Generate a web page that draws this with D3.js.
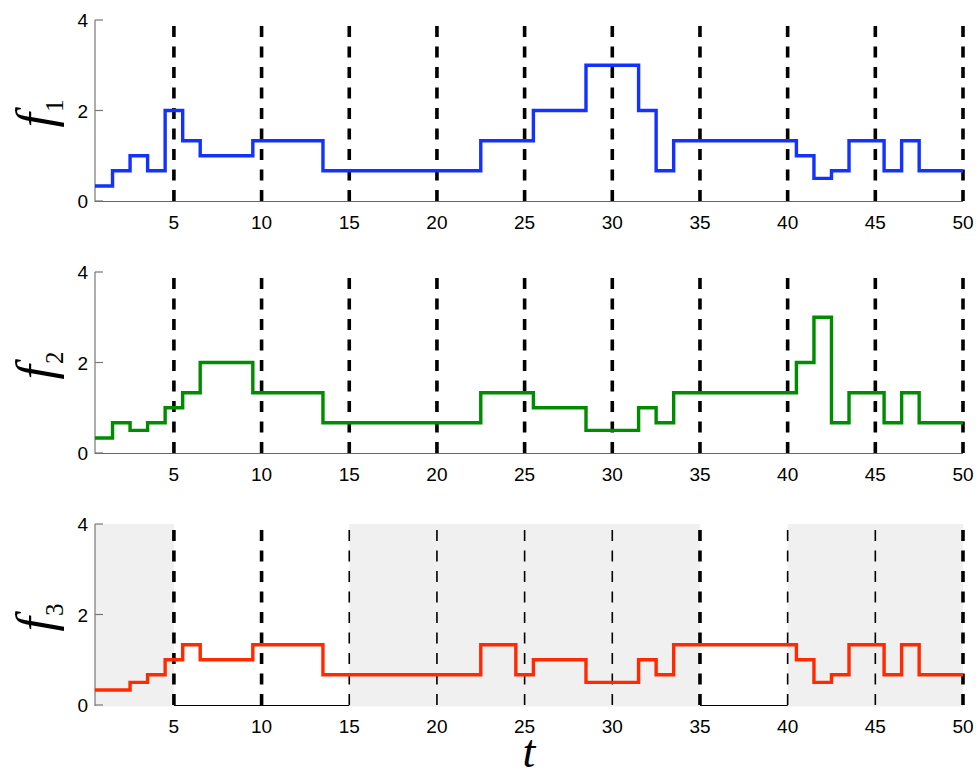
<!DOCTYPE html>
<html>
<head>
<meta charset="utf-8">
<script src="https://cdn.jsdelivr.net/npm/d3@7"></script>
<style>
  html, body { margin: 0; padding: 0; background: #fff; }
  svg { display: block; }
</style>
</head>
<body>
<script>
// Piecewise-constant signals, one value per time step t = 1..50
const f1 = [0.333, 0.667, 1, 0.667, 2, 1.333, 1, 1, 1, 1.333,
            1.333, 1.333, 1.333, 0.667, 0.667, 0.667, 0.667, 0.667, 0.667, 0.667,
            0.667, 0.667, 1.333, 1.333, 1.333, 2, 2, 2, 3, 3,
            3, 2, 0.667, 1.333, 1.333, 1.333, 1.333, 1.333, 1.333, 1.333,
            1, 0.5, 0.667, 1.333, 1.333, 0.667, 1.333, 0.667, 0.667, 0.667];
const f2 = [0.333, 0.667, 0.5, 0.667, 1, 1.333, 2, 2, 2, 1.333,
            1.333, 1.333, 1.333, 0.667, 0.667, 0.667, 0.667, 0.667, 0.667, 0.667,
            0.667, 0.667, 1.333, 1.333, 1.333, 1, 1, 1, 0.5, 0.5,
            0.5, 1, 0.667, 1.333, 1.333, 1.333, 1.333, 1.333, 1.333, 1.333,
            2, 3, 0.667, 1.333, 1.333, 0.667, 1.333, 0.667, 0.667, 0.667];
const f3 = [0.333, 0.333, 0.5, 0.667, 1, 1.333, 1, 1, 1, 1.333,
            1.333, 1.333, 1.333, 0.667, 0.667, 0.667, 0.667, 0.667, 0.667, 0.667,
            0.667, 0.667, 1.333, 1.333, 0.667, 1, 1, 1, 0.5, 0.5,
            0.5, 1, 0.667, 1.333, 1.333, 1.333, 1.333, 1.333, 1.333, 1.333,
            1, 0.5, 0.667, 1.333, 1.333, 0.667, 1.333, 0.667, 0.667, 0.667];

const seriesNames = ["1", "2", "3"];
const seriesColors = ["#1432ff", "#008c00", "#ff2a00"];

const xTicks = [5, 10, 15, 20, 25, 30, 35, 40, 45, 50];
const yTicks = [0, 2, 4];
const markers = [5, 10, 15, 20, 25, 30, 35, 40, 45, 50];
// Third panel: shaded spans and which markers are drawn heavy
const shadedSpans = [[0.5, 5], [15, 35], [40, 50]];
const heavyMarkers = [5, 10, 35, 50];

const W = 979, H = 778;
const left = 95, right = 963;
const panelTops = [20, 272, 524];
const panelH = 181;

const svg = d3.select("body").append("svg")
  .attr("width", W).attr("height", H);

const x = d3.scaleLinear().domain([0.5, 50]).range([left, right]);

const seriesList = [f1, f2, f3];

seriesList.forEach((vals, p) => {
  const top = panelTops[p];
  const y = d3.scaleLinear().domain([0, 4]).range([top + panelH, top]);
  const g = svg.append("g");
  const isLast = p === 2;

  // bottom axis line
  g.append("line")
    .attr("x1", left).attr("x2", right)
    .attr("y1", y(0) + 0.5).attr("y2", y(0) + 0.5)
    .attr("stroke", isLast ? "#000" : "#666").attr("stroke-width", 1.2);

  if (isLast) {
    g.selectAll("rect.shade").data(shadedSpans).enter().append("rect")
      .attr("class", "shade")
      .attr("x", d => x(d[0]))
      .attr("width", d => x(d[1]) - x(d[0]))
      .attr("y", y(4))
      .attr("height", y(0) - y(4) + 1.5)
      .attr("fill", "#f0f0f0");
  }

  // left axis
  g.append("line")
    .attr("x1", left).attr("x2", left)
    .attr("y1", y(4)).attr("y2", y(0) + 1)
    .attr("stroke", "#777").attr("stroke-width", 1.2);

  // y ticks (inward) and labels
  g.selectAll("line.ytick").data(yTicks).enter().append("line")
    .attr("class", "ytick")
    .attr("x1", left).attr("x2", left + 8)
    .attr("y1", d => y(d)).attr("y2", d => y(d))
    .attr("stroke", "#777").attr("stroke-width", 1.2);
  g.selectAll("text.ylab").data(yTicks).enter().append("text")
    .attr("class", "ylab")
    .attr("x", left - 7)
    .attr("y", d => y(d) + 7)
    .attr("text-anchor", "end")
    .attr("font-family", "Liberation Sans, Arial, sans-serif")
    .attr("font-size", 19)
    .attr("fill", "#000")
    .text(d => d);

  // x tick labels
  g.selectAll("text.xlab").data(xTicks).enter().append("text")
    .attr("class", "xlab")
    .attr("x", d => x(d))
    .attr("y", y(0) + 28)
    .attr("text-anchor", "middle")
    .attr("font-family", "Liberation Sans, Arial, sans-serif")
    .attr("font-size", 19)
    .attr("fill", "#000")
    .text(d => d);

  // vertical dashed markers, dash pattern starting from the bottom
  g.selectAll("line.marker").data(markers).enter().append("line")
    .attr("class", "marker")
    .attr("x1", d => x(d)).attr("x2", d => x(d))
    .attr("y1", y(0)).attr("y2", y(4))
    .attr("stroke", "#000")
    .attr("stroke-width", d => (!isLast || heavyMarkers.includes(d)) ? 3.6 : 1.6)
    .attr("stroke-dasharray", "11,9.5");

  // step signal
  const pts = vals.map((v, i) => [i + 0.5, v]);
  pts.push([50, vals[vals.length - 1]]);
  const line = d3.line()
    .x(d => x(d[0])).y(d => y(d[1]))
    .curve(d3.curveStepAfter);
  g.append("path")
    .attr("d", line(pts))
    .attr("fill", "none")
    .attr("stroke", seriesColors[p])
    .attr("stroke-width", 3.4)
    .attr("stroke-linejoin", "miter");

  // y label f_n
  const cy = top + panelH / 2 + 3;
  const lab = g.append("text")
    .attr("transform", `translate(53,${cy}) rotate(-90)`)
    .attr("text-anchor", "middle")
    .attr("font-family", "Liberation Serif, Times New Roman, serif")
    .attr("font-style", "italic")
    .attr("font-size", 52)
    .attr("fill", "#000");
  lab.append("tspan").text("f");
  lab.append("tspan")
    .attr("font-style", "normal")
    .attr("font-size", 25)
    .attr("dy", 10)
    .attr("dx", 1)
    .text(seriesNames[p]);
});

// x-axis title
svg.append("text")
  .attr("x", (left + right) / 2)
  .attr("y", 767)
  .attr("text-anchor", "middle")
  .attr("font-family", "Liberation Serif, Times New Roman, serif")
  .attr("font-style", "italic")
  .attr("font-size", 46)
  .attr("fill", "#000")
  .text("t");
</script>
</body>
</html>
